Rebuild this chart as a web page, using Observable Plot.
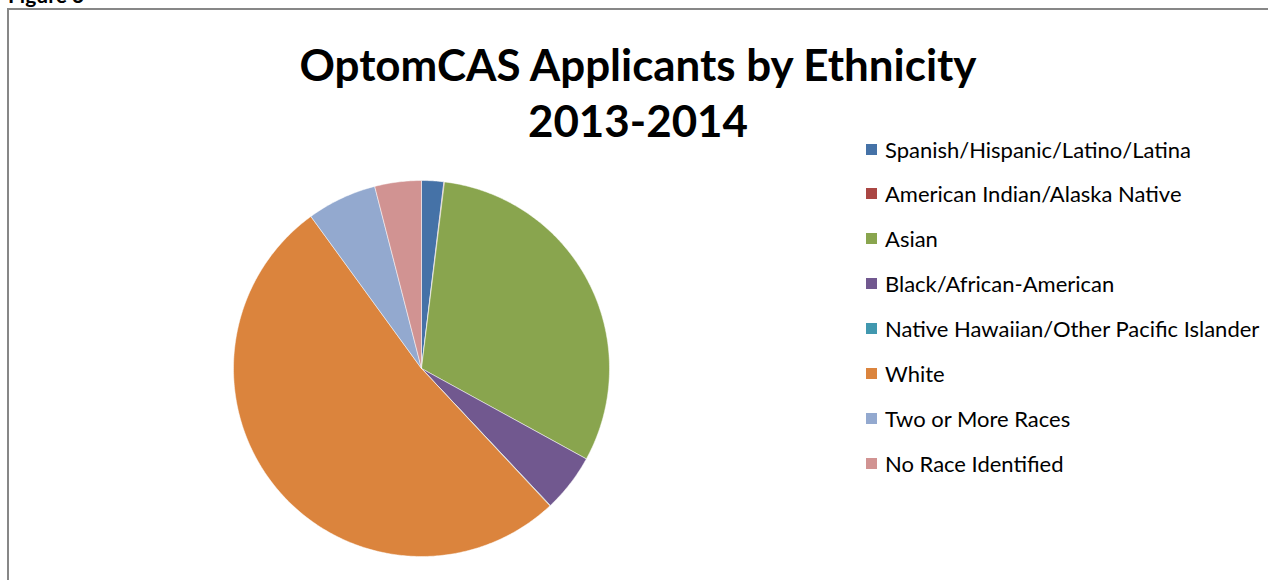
<!DOCTYPE html>
<html><head><meta charset="utf-8">
<script src="https://cdn.jsdelivr.net/npm/d3@7"></script>
<script src="https://cdn.jsdelivr.net/npm/@observablehq/plot@0.6"></script>
<style>
body{margin:0;background:#fff;}
#wrap{position:relative;width:1268px;height:580px;overflow:hidden;font-family:Lato,"Open Sans",sans-serif;color:#000;}
#frame{position:absolute;left:7px;top:8px;width:1400px;height:700px;border:2px solid #878787;box-sizing:border-box;}
#plot{position:absolute;left:0;top:0;}
.t{position:absolute;white-space:nowrap;line-height:1;}
.title{left:0;width:1276px;text-align:center;font-weight:bold;}
.leg{position:absolute;left:866px;height:24px;display:flex;align-items:center;white-space:nowrap;}
.leg .sw{width:11px;height:11px;margin-right:8px;flex:none;}
</style>
</head><body>
<div id="wrap">
  <div class="t" id="figlabel" style="left:8px;font-weight:bold;">Figure 3</div>
  <div id="frame"></div>
  <div id="plot"></div>
  <div class="t title" id="t1">OptomCAS Applicants by Ethnicity</div>
  <div class="t title" id="t2">2013-2014</div>
  <div id="legend"></div>
</div>
<script>
// Data
const categories = [
  "Spanish/Hispanic/Latino/Latina",
  "American Indian/Alaska Native",
  "Asian",
  "Black/African-American",
  "Native Hawaiian/Other Pacific Islander",
  "White",
  "Two or More Races",
  "No Race Identified"
];
const shares = [1.9, 0.05, 31.0, 5.0, 0.05, 51.9, 6.0, 4.0];
const colors = ["#4572A7", "#AA4643", "#89A54E", "#71588F", "#4198AF", "#DB843D", "#93A9CF", "#D19392"];

const data = categories.map((name, i) => ({name, value: shares[i]}));

// font fitting helper
const ctx = document.createElement("canvas").getContext("2d");
function fit(text, weight, target, base) {
  ctx.font = `${weight} ${base}px Lato`;
  return base * target / ctx.measureText(text).width;
}

// Pie slices as polygons built from d3.pie angles
const arcs = d3.pie().sort(null).value(d => d.value)(data);
const pts = [];
for (const a of arcs) {
  const n = Math.max(2, Math.ceil((a.endAngle - a.startAngle) / 0.01));
  pts.push({name: a.data.name, x: 0, y: 0});
  for (let k = 0; k <= n; k++) {
    const t = a.startAngle + (a.endAngle - a.startAngle) * k / n;
    pts.push({name: a.data.name, x: Math.sin(t), y: Math.cos(t)});
  }
  pts.push({name: a.data.name, x: 0, y: 0});
}

const W = 1268, H = 580;
const plot = Plot.plot({
  width: W, height: H,
  marginLeft: 233, marginRight: W - 609,
  marginTop: 180, marginBottom: H - 556,
  x: {domain: [-1, 1], axis: null},
  y: {domain: [-1, 1], axis: null},
  color: {domain: categories, range: colors},
  style: {background: "transparent", overflow: "visible"},
  marks: [
    Plot.line(pts, {x: "x", y: "y", z: "name", fill: "name", stroke: "white", strokeWidth: 0.7, strokeOpacity: 0.7, strokeLinejoin: "round"})
  ]
});
document.getElementById("plot").appendChild(plot);

// Title
const tsize = fit("OptomCAS Applicants by Ethnicity", "bold", 680, 48);
const t1 = document.getElementById("t1"), t2 = document.getElementById("t2");
t1.style.fontSize = tsize + "px"; t2.style.fontSize = tsize + "px";
t1.style.top = (79 - 0.82 * tsize) + "px";
t2.style.top = (135 - 0.82 * tsize) + "px";

// Figure label (clipped at top, as in the reference)
const fl = document.getElementById("figlabel");
fl.style.fontSize = "21px";
fl.style.top = (1 - 0.82 * 21) + "px";

// Legend
const lsize = fit("Native Hawaiian/Other Pacific Islander", "normal", 375, 20);
const legend = document.getElementById("legend");
categories.forEach((c, i) => {
  const row = document.createElement("div");
  row.className = "leg";
  row.style.top = (150.5 + i * 44.9 - 13.5) + "px";
  row.style.fontSize = lsize + "px";
  const sw = document.createElement("div");
  sw.className = "sw"; sw.style.background = colors[i];
  const tx = document.createElement("span");
  tx.textContent = c;
  row.appendChild(sw); row.appendChild(tx);
  legend.appendChild(row);
});
</script>
</body></html>
